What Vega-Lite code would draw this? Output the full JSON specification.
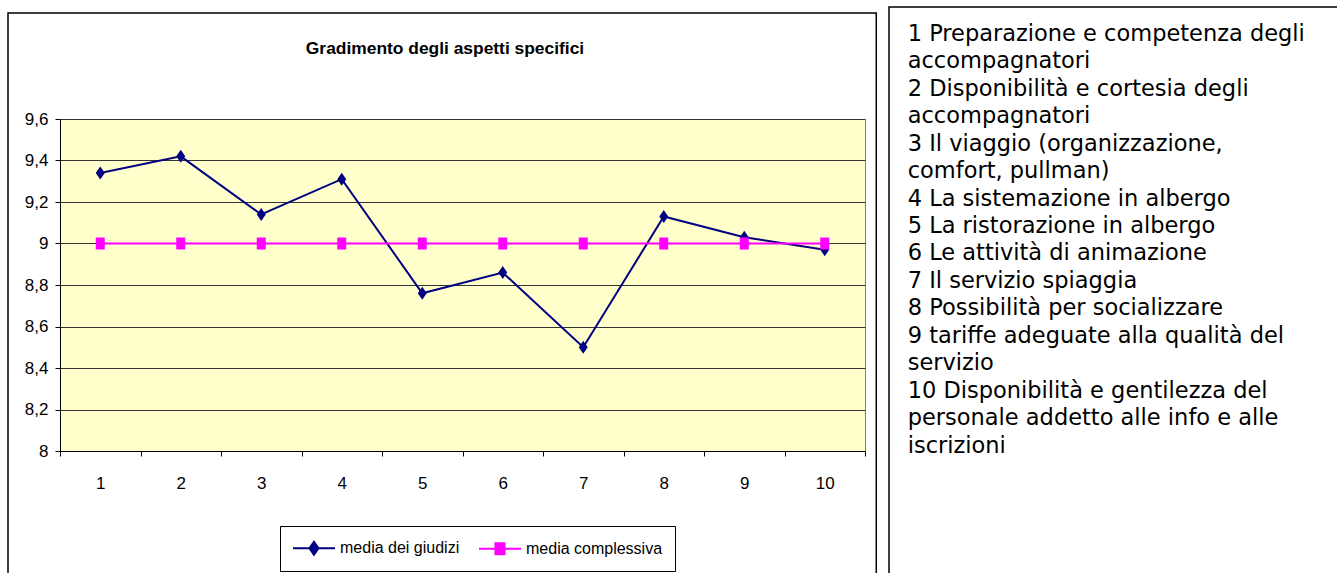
{
  "$schema": "https://vega.github.io/schema/vega-lite/v6.json",
  "width": 805,
  "height": 332,
  "autosize": {"type": "none"},
  "padding": {"left": 60, "top": 119, "right": 472, "bottom": 122},
  "background": "white",
  "config": {"view": {"fill": "#FFFFCC", "stroke": "#808080", "strokeWidth": 1}},
  "title": {
    "text": "Gradimento degli aspetti specifici",
    "font": "Liberation Sans",
    "fontSize": 17.4,
    "fontWeight": "bold",
    "color": "black",
    "anchor": "middle",
    "frame": "group",
    "dx": -17.5,
    "baseline": "alphabetic",
    "offset": -65
  },
  "datasets": {
    "serie": [
      {"aspetto": 1, "serie": "media dei giudizi", "valore": 9.34},
      {"aspetto": 2, "serie": "media dei giudizi", "valore": 9.42},
      {"aspetto": 3, "serie": "media dei giudizi", "valore": 9.14},
      {"aspetto": 4, "serie": "media dei giudizi", "valore": 9.31},
      {"aspetto": 5, "serie": "media dei giudizi", "valore": 8.76},
      {"aspetto": 6, "serie": "media dei giudizi", "valore": 8.86},
      {"aspetto": 7, "serie": "media dei giudizi", "valore": 8.5},
      {"aspetto": 8, "serie": "media dei giudizi", "valore": 9.13},
      {"aspetto": 9, "serie": "media dei giudizi", "valore": 9.03},
      {"aspetto": 10, "serie": "media dei giudizi", "valore": 8.97},
      {"aspetto": 1, "serie": "media complessiva", "valore": 9.0},
      {"aspetto": 2, "serie": "media complessiva", "valore": 9.0},
      {"aspetto": 3, "serie": "media complessiva", "valore": 9.0},
      {"aspetto": 4, "serie": "media complessiva", "valore": 9.0},
      {"aspetto": 5, "serie": "media complessiva", "valore": 9.0},
      {"aspetto": 6, "serie": "media complessiva", "valore": 9.0},
      {"aspetto": 7, "serie": "media complessiva", "valore": 9.0},
      {"aspetto": 8, "serie": "media complessiva", "valore": 9.0},
      {"aspetto": 9, "serie": "media complessiva", "valore": 9.0},
      {"aspetto": 10, "serie": "media complessiva", "valore": 9.0}
    ],
    "lista": [
      {"n": 1, "testo": "1 Preparazione e competenza degli"},
      {"n": 2, "testo": "accompagnatori"},
      {"n": 3, "testo": "2 Disponibilità e cortesia degli"},
      {"n": 4, "testo": "accompagnatori"},
      {"n": 5, "testo": "3 Il viaggio (organizzazione,"},
      {"n": 6, "testo": "comfort, pullman)"},
      {"n": 7, "testo": "4 La sistemazione in albergo"},
      {"n": 8, "testo": "5 La ristorazione in albergo"},
      {"n": 9, "testo": "6 Le attività di animazione"},
      {"n": 10, "testo": "7 Il servizio spiaggia"},
      {"n": 11, "testo": "8 Possibilità per socializzare"},
      {"n": 12, "testo": "9 tariffe adeguate alla qualità del"},
      {"n": 13, "testo": "servizio"},
      {"n": 14, "testo": "10 Disponibilità e gentilezza del"},
      {"n": 15, "testo": "personale addetto alle info e alle"},
      {"n": 16, "testo": "iscrizioni"}
    ]
  },
  "layer": [
    {
      "layer": [
        {
          "data": {"values": [{}]},
          "mark": {"type": "rect", "fill": "transparent", "stroke": "black", "strokeWidth": 1.5},
          "encoding": {
            "x": {"datum": -0.146, "type": "quantitative", "scale": {"domain": [0.5, 10.5], "nice": false, "zero": false}, "axis": {"title": null}},
            "x2": {"datum": 10.64},
            "y": {"datum": 10.111, "type": "quantitative", "scale": {"domain": [8, 9.6], "nice": false, "zero": false}, "axis": {"title": null}},
            "y2": {"datum": 7.3}
          }
        },
        {
          "data": {"values": [{}]},
          "mark": {"type": "rect", "fill": "transparent", "stroke": "black", "strokeWidth": 1.5},
          "encoding": {
            "x": {"datum": 10.798, "type": "quantitative", "scale": {"domain": [0.5, 10.5], "nice": false, "zero": false}, "axis": {"title": null}},
            "x2": {"datum": 16.6},
            "y": {"datum": 10.14, "type": "quantitative", "scale": {"domain": [8, 9.6], "nice": false, "zero": false}, "axis": {"title": null}},
            "y2": {"datum": 7.3}
          }
        },
        {
          "data": {"name": "serie"},
          "mark": {"type": "line", "strokeWidth": 2},
          "encoding": {
            "x": {
              "field": "aspetto", "type": "quantitative",
              "scale": {"domain": [0.5, 10.5], "nice": false, "zero": false},
              "axis": {
                "title": null,
                "values": [0.5, 1.5, 2.5, 3.5, 4.5, 5.5, 6.5, 7.5, 8.5, 9.5, 10.5],
                "labelExpr": "datum.value < 10 ? format(datum.value + 0.5, 'd') : ''",
                "labelOffset": 40.25,
                "labelFlush": false,
                "labelOverlap": false,
                "labelBound": false,
                "labelFont": "Liberation Sans",
                "labelFontSize": 17,
                "labelColor": "black",
                "labelPadding": 19,
                "tickSize": 5,
                "tickColor": "black",
                "domainColor": "black",
                "grid": false
              }
            },
            "y": {
              "field": "valore", "type": "quantitative",
              "scale": {"domain": [8, 9.6], "nice": false, "zero": false},
              "axis": {
                "title": null,
                "values": [8, 8.2, 8.4, 8.6, 8.8, 9, 9.2, 9.4, 9.6],
                "labelExpr": "replace(format(datum.value, '.1~f'), '.', ',')",
                "labelFont": "Liberation Sans",
                "labelFontSize": 17,
                "labelColor": "black",
                "labelPadding": 7,
                "labelFlush": false,
                "labelOverlap": false,
                "tickSize": 5,
                "tickColor": "black",
                "domainColor": "black",
                "grid": true,
                "gridColor": "#333333",
                "gridWidth": 1
              }
            },
            "color": {
              "field": "serie", "type": "nominal",
              "scale": {"domain": ["media dei giudizi", "media complessiva"], "range": ["#000080", "#FF00FF"]},
              "legend": {
                "title": null,
                "orient": "none",
                "legendX": 220,
                "legendY": 407,
                "direction": "horizontal",
                "fillColor": "white",
                "strokeColor": "black",
                "padding": 12,
                "labelFont": "Liberation Sans",
                "labelFontSize": 16,
                "labelColor": "black",
                "labelLimit": 300,
                "symbolSize": 324,
                "symbolStrokeWidth": 2,
                "columnPadding": 15,
                "labelOffset": 28,
                "encode": {
                  "symbols": {
                    "update": {
                      "shape": {"signal": "datum.value === 'media dei giudizi' ? 'M-1,0H3.67M1.33,-0.72L1.83,0L1.33,0.72L0.83,0Z' : 'M-1,0H3.67M0.83,-0.61H1.83V0.61H0.83Z'"},
                      "fill": {"signal": "datum.value === 'media dei giudizi' ? '#000080' : '#FF00FF'"},
                      "stroke": {"signal": "datum.value === 'media dei giudizi' ? '#000080' : '#FF00FF'"},
                      "fillOpacity": {"value": 1},
                      "strokeWidth": {"value": 2}
                    }
                  }
                }
              }
            }
          }
        },
        {
          "data": {"name": "serie"},
          "transform": [{"filter": "datum.serie === 'media dei giudizi'"}],
          "mark": {"type": "point", "filled": true, "opacity": 1, "size": 156, "color": "#000080", "shape": "M0,-1.04L0.72,0L0,1.04L-0.72,0Z"},
          "encoding": {
            "x": {"field": "aspetto", "type": "quantitative", "scale": {"domain": [0.5, 10.5], "nice": false, "zero": false}, "axis": {"title": null}},
            "y": {"field": "valore", "type": "quantitative", "scale": {"domain": [8, 9.6], "nice": false, "zero": false}, "axis": {"title": null}}
          }
        },
        {
          "data": {"name": "serie"},
          "transform": [{"filter": "datum.serie === 'media complessiva'"}],
          "mark": {"type": "point", "filled": true, "opacity": 1, "size": 156, "color": "#FF00FF", "shape": "M-0.72,-0.96H0.72V0.96H-0.72Z"},
          "encoding": {
            "x": {"field": "aspetto", "type": "quantitative", "scale": {"domain": [0.5, 10.5], "nice": false, "zero": false}, "axis": {"title": null}},
            "y": {"field": "valore", "type": "quantitative", "scale": {"domain": [8, 9.6], "nice": false, "zero": false}, "axis": {"title": null}}
          }
        }
      ]
    },
    {
      "data": {"name": "lista"},
      "mark": {"type": "text", "align": "left", "baseline": "alphabetic", "font": "DejaVu Sans", "fontSize": 22.5, "color": "black"},
      "encoding": {
        "x": {"datum": 11.03, "type": "quantitative", "scale": {"domain": [0.5, 10.5], "nice": false, "zero": false}, "axis": {"title": null}},
        "y": {"field": "n", "type": "quantitative", "scale": {"domain": [3.85, 15.936], "reverse": true, "nice": false, "zero": false}, "axis": null},
        "text": {"field": "testo"}
      }
    }
  ],
  "resolve": {"scale": {"y": "independent"}}
}
